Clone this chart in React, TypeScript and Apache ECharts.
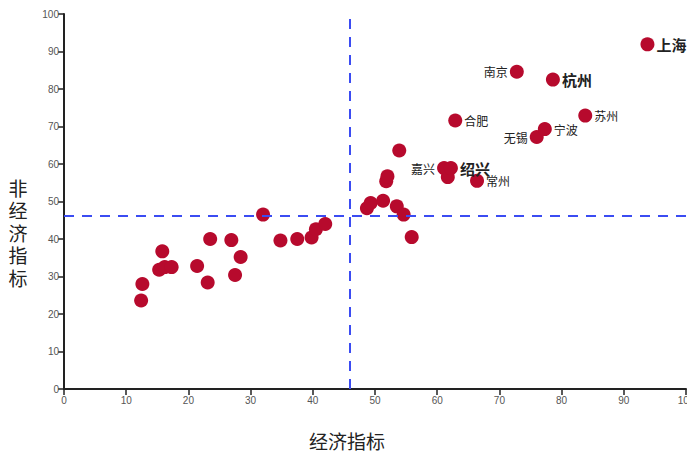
import React, { useEffect, useRef } from "react";
import * as echarts from "echarts";

const econIndex = [
  12.4, 12.6, 15.3, 16.2, 15.8, 17.3, 21.4, 23.1, 23.5, 26.9, 27.5, 28.4, 32.0,
  34.8, 37.5, 39.8, 40.5, 42.0, 48.7, 49.3, 51.3, 51.8, 52.0, 53.5, 54.6, 55.9,
  53.9, 61.7, 61.1, 62.2, 66.4, 62.9, 76.0, 77.3, 72.8, 78.6, 83.8, 93.8,
];
const nonEconIndex = [
  23.6, 28.0, 31.8, 32.5, 36.7, 32.5, 32.8, 28.4, 40.0, 39.7, 30.4, 35.2, 46.5,
  39.6, 40.0, 40.4, 42.6, 44.0, 48.2, 49.6, 50.2, 55.4, 56.7, 48.7, 46.5, 40.5,
  63.6, 56.5, 58.9, 58.9, 55.5, 71.6, 67.2, 69.3, 84.6, 82.5, 72.9, 91.9,
];
const cityNames = [
  "", "", "", "", "", "", "", "", "", "", "", "", "",
  "", "", "", "", "", "", "", "", "", "", "", "", "",
  "", "", "嘉兴", "绍兴", "常州", "合肥", "无锡", "宁波", "南京", "杭州", "苏州", "上海",
];
const xTickValues = [0, 10, 20, 30, 40, 50, 60, 70, 80, 90, 100];
const yTickValues = [0, 10, 20, 30, 40, 50, 60, 70, 80, 90, 100];
const econThreshold = 45.9;
const nonEconThreshold = 46.2;
const xAxisTitle = "经济指标";
const yAxisTitle = "非经济指标";

const leftLabelled = new Set(["南京", "无锡", "嘉兴"]);
const bigLabelled = new Set(["上海", "杭州", "绍兴"]);

const CJK = '"Noto Sans CJK SC", "Noto Sans", sans-serif';

export default function App() {
  const ref = useRef<HTMLDivElement>(null);

  useEffect(() => {
    if (!ref.current) return;
    const chart = echarts.init(ref.current, undefined, { renderer: "svg" });

    const data = econIndex.map((x, i) => {
      const name = cityNames[i];
      const item: any = { value: [x, nonEconIndex[i]], name };
      if (name) {
        const big = bigLabelled.has(name);
        item.label = {
          show: true,
          formatter: name,
          position: leftLabelled.has(name) ? "left" : "right",
          distance: 2,
          fontSize: big ? 15 : 12,
          fontWeight: big ? "bold" : "normal",
          color: "#222",
          fontFamily: CJK,
        };
      }
      return item;
    });

    const yTitleChars = yAxisTitle.split("");
    const yTitleGraphics = yTitleChars.map((ch, i) => ({
      type: "text",
      x: 18,
      y: 232 + (i - (yTitleChars.length - 1) / 2) * 22.5,
      style: {
        text: ch,
        fontSize: 19,
        lineHeight: 21,
        fontFamily: CJK,
        fill: "#222",
        align: "center",
        verticalAlign: "middle",
      },
    }));

    chart.setOption({
      animation: false,
      backgroundColor: "#ffffff",
      grid: {
        left: 64,
        right: 1,
        top: 14,
        bottom: 63,
        containLabel: false,
        outerBoundsMode: "none",
      },
      xAxis: {
        type: "value",
        min: xTickValues[0],
        max: xTickValues[xTickValues.length - 1],
        interval: xTickValues[1] - xTickValues[0],
        splitLine: { show: false },
        axisLine: { show: true, lineStyle: { color: "#222", width: 2 } },
        axisTick: { show: true, length: 6, lineStyle: { color: "#222", width: 1.5 } },
        axisLabel: { color: "#555", fontSize: 10, margin: 6, fontFamily: "Liberation Sans, Arial, sans-serif" },
      },
      yAxis: {
        type: "value",
        min: yTickValues[0],
        max: yTickValues[yTickValues.length - 1],
        interval: yTickValues[1] - yTickValues[0],
        splitLine: { show: false },
        axisLine: { show: true, lineStyle: { color: "#222", width: 2 } },
        axisTick: { show: true, length: 6, lineStyle: { color: "#222", width: 1.5 } },
        axisLabel: { color: "#555", fontSize: 10, margin: 5, fontFamily: "Liberation Sans, Arial, sans-serif" },
      },
      graphic: [
        {
          type: "text",
          x: 347,
          y: 440,
          style: {
            text: xAxisTitle,
            fontSize: 19,
            fontFamily: CJK,
            fill: "#222",
            align: "center",
            verticalAlign: "middle",
          },
        },
        ...yTitleGraphics,
      ],
      series: [
        {
          type: "scatter",
          data,
          symbolSize: 14,
          itemStyle: { color: "#b70a2d", opacity: 1 },
          label: { show: false },
          markLine: {
            silent: true,
            symbol: "none",
            label: { show: false },
            lineStyle: { type: [10, 8], color: "#3b4cf2", width: 2 },
            data: [{ xAxis: econThreshold }, { yAxis: nonEconThreshold }],
          },
        },
      ],
    });

    return () => chart.dispose();
  }, []);

  return (
    <div
      ref={ref}
      style={{ position: "fixed", left: 0, top: 0, width: 687, height: 452, background: "#fff" }}
    />
  );
}
